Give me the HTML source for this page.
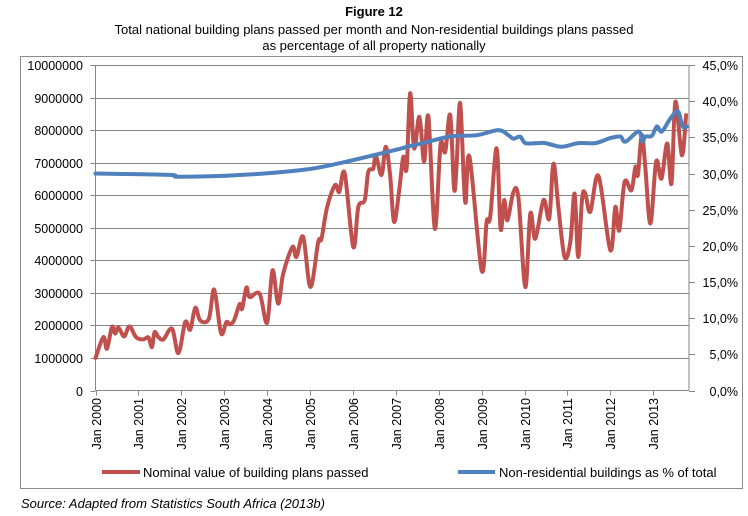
<!DOCTYPE html>
<html><head><meta charset="utf-8">
<style>
body{margin:0;background:#fff;width:748px;height:516px;overflow:hidden;font-family:"Liberation Sans",Arial,sans-serif;}
svg{position:absolute;left:0;top:0}
</style></head>
<body>
<svg id="chart" width="748" height="516">
  <text x="374" y="16" text-anchor="middle" font-size="13" font-weight="bold">Figure 12</text>
  <text x="374" y="34" text-anchor="middle" font-size="13">Total national building plans passed per month and Non-residential buildings plans passed</text>
  <text x="374" y="50" text-anchor="middle" font-size="13">as percentage of all property nationally</text>
  <rect x="20.5" y="56.5" width="722" height="432" fill="none" stroke="#8c8c8c"/>
  <g id="grid"></g><g id="axes"></g><g id="series"></g>
  <line x1="102" y1="472" x2="140" y2="472" stroke="#c0504d" stroke-width="4"/>
  <text x="143" y="477" font-size="13">Nominal value of building plans passed</text>
  <line x1="458" y1="472" x2="495" y2="472" stroke="#4f81bd" stroke-width="4"/>
  <text x="499" y="477" font-size="13">Non-residential buildings as % of total</text>
  <text x="21" y="508" font-size="13" font-style="italic">Source: Adapted from Statistics South Africa (2013b)</text>
</svg>
<script>
const years = ["Jan 2000","Jan 2001","Jan 2002","Jan 2003","Jan 2004","Jan 2005","Jan 2006","Jan 2007","Jan 2008","Jan 2009","Jan 2010","Jan 2011","Jan 2012","Jan 2013"];
const leftTicks = [0,1000000,2000000,3000000,4000000,5000000,6000000,7000000,8000000,9000000,10000000];
const rightTicks = ["0,0%","5,0%","10,0%","15,0%","20,0%","25,0%","30,0%","35,0%","40,0%","45,0%"];
const redMonths = [0,2.2,3.2,4.6,5.5,6.4,8,9.5,11.4,13.4,14.8,15.8,16.5,17.6,19,21.4,23.2,25.1,26.5,27.9,29.3,31.7,33.2,35.1,36.6,37.7,38.8,40.3,41,42.2,43.1,45.9,48,49.5,51.1,52.5,55.1,56.2,58.1,60.1,62.3,63.2,64.8,67,68.2,69.7,72.1,73.5,75.3,76.3,77.7,78.4,80,81.2,82.4,83.5,85,86.1,87,88,89.1,90.6,91.9,93.1,94.9,96.5,97.8,99.2,100.3,101,102,103.4,104.6,108,109.4,110.4,112.2,113.3,114.3,115.2,116.9,118.3,120.2,121.6,123,125.3,126.9,128.1,129.5,131.2,132.8,134,135,136.1,137,138.4,140.7,144,145.4,146.5,148,149.9,151,151.7,152.8,153.8,155.2,156.8,158.3,159.9,161.1,162.2,164,165.2];
const redValues = [1.0,1.64,1.28,1.95,1.75,1.94,1.66,1.97,1.63,1.57,1.63,1.33,1.79,1.64,1.57,1.90,1.15,2.10,1.87,2.54,2.15,2.20,3.10,1.76,2.10,2.03,2.17,2.65,2.51,3.16,2.87,2.97,2.08,3.69,2.67,3.59,4.41,4.10,4.72,3.18,4.56,4.66,5.64,6.31,6.10,6.67,4.41,5.64,5.85,6.72,6.82,7.23,6.62,7.49,6.62,5.18,6.20,7.18,6.82,9.13,7.44,8.41,7.03,8.41,4.97,7.54,7.33,8.46,6.20,6.92,8.82,5.79,7.18,3.69,5.18,5.33,7.44,4.97,5.85,5.23,6.10,5.90,3.18,5.43,4.66,5.85,5.28,6.97,5.59,4.10,4.56,6.05,4.10,5.90,6.05,5.49,6.59,4.31,5.64,4.92,6.41,6.15,6.87,6.62,7.85,6.82,5.13,7.03,6.51,7.59,6.36,8.87,7.23,8.46];
const blueMonths = [0,20.7,23.5,41,58,68,85,87,90.8,99,106.6,112.7,115.5,116.9,118.8,120.2,123.4,125.8,130.4,135,139.8,144,146.8,148.2,151.9,153,153.8,155.6,157,158.4,160.8,162.9,164.2,165.4];
const bluePct = [30.0,29.8,29.55,29.8,30.5,31.4,33.4,33.7,34.1,35.1,35.3,36.0,35.3,34.8,35.1,34.2,34.2,34.2,33.7,34.2,34.2,34.9,35.1,34.4,35.8,34.4,35.1,35.2,36.5,35.8,37.6,38.6,36.5,36.5];

const X0=95.5, PX_PER_MONTH=(689-95.5)/166, Y0=390.5, Y1=65;
const xScale = m => X0 + m*PX_PER_MONTH;
const yLeft = v => Y0 - (v/10000000)*(Y0-Y1);
const yRight = p => Y0 - (p/45)*(Y0-Y1);
const NS="http://www.w3.org/2000/svg";
function mk(tag, attrs, parent, txt){const e=document.createElementNS(NS,tag);for(const k in attrs)e.setAttribute(k,attrs[k]);if(txt!==undefined)e.textContent=txt;parent.appendChild(e);return e;}
const grid=document.getElementById('grid'), axes=document.getElementById('axes'), series=document.getElementById('series');

leftTicks.forEach((t)=>{
  const y=Math.round(yLeft(t))+0.5;
  if(t>0){const g=mk('line',{x1:X0,x2:689,y1:y,y2:y,stroke:'#868686','stroke-width':1},grid);
  
  }
  const tk=mk('line',{x1:X0-5,x2:X0,y1:y,y2:y,stroke:'#868686'},axes);
  
  
  const lb=mk('text',{x:83,y:y+4.5,'text-anchor':'end','font-size':'12.5'},axes,String(t));
  
  
});
rightTicks.forEach((t,i)=>{
  const y=Math.round(yRight(i*5))+0.5;
  const tk=mk('line',{x1:689,x2:695,y1:y,y2:y,stroke:'#868686'},axes);
  
  
  const lb=mk('text',{x:738,y:y+4.5,'text-anchor':'end','font-size':'12.5'},axes,t);
  
  
});
const la=mk('line',{x1:X0,x2:X0,y1:Y1,y2:Y0,stroke:'#868686'},axes);


const ra=mk('line',{x1:689,x2:689,y1:Y1,y2:Y0,stroke:'#868686'},axes);


const xa=mk('line',{x1:X0,x2:689,y1:Y0,y2:Y0,stroke:'#868686'},axes);


years.forEach((yr,i)=>{
  const x=Math.round(xScale(i*12))+0.5;
  const tk=mk('line',{x1:x,x2:x,y1:Y0,y2:Y0+5,stroke:'#868686'},axes);
  
  
  const lb=mk('text',{x:0,y:0,'text-anchor':'end','font-size':'12.5',transform:`translate(${x+4.5},398) rotate(-90)`},axes,yr);
  
  
});
function smooth(pts){
  let d=`M${pts[0][0]},${pts[0][1]}`;
  for(let i=0;i<pts.length-1;i++){
    const p0=pts[i-1]||pts[i],p1=pts[i],p2=pts[i+1],p3=pts[i+2]||p2;
    const c1=[p1[0]+(p2[0]-p0[0])/6,p1[1]+(p2[1]-p0[1])/6];
    const c2=[p2[0]-(p3[0]-p1[0])/6,p2[1]-(p3[1]-p1[1])/6];
    d+=`C${c1[0].toFixed(1)},${c1[1].toFixed(1)} ${c2[0].toFixed(1)},${c2[1].toFixed(1)} ${p2[0].toFixed(1)},${p2[1].toFixed(1)}`;
  }
  return d;
}
const redPts=redMonths.map((m,i)=>[xScale(m),yLeft(redValues[i]*1000000)]);
const bluePts=blueMonths.map((m,i)=>[xScale(m),yRight(bluePct[i])]);
const rl=mk('path',{d:smooth(redPts),fill:'none',stroke:'#c0504d','stroke-width':4,'stroke-linejoin':'round','stroke-linecap':'round'},series);


const bl=mk('path',{d:smooth(bluePts),fill:'none',stroke:'#4f81bd','stroke-width':4,'stroke-linejoin':'round','stroke-linecap':'round'},series);


</script>
</body></html>
